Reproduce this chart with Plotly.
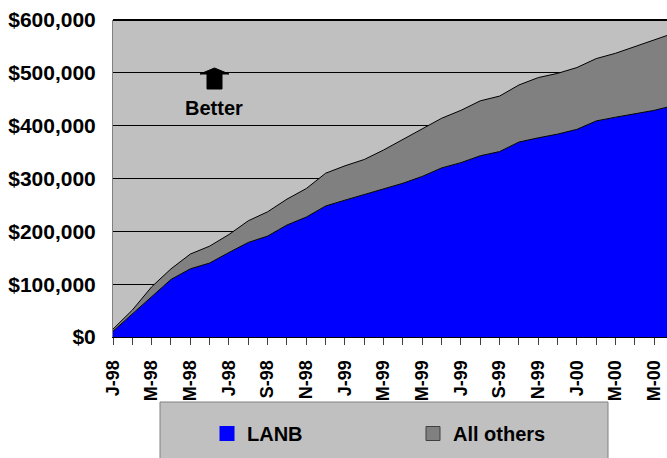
import plotly.graph_objects as go

# monthly cumulative totals, Jan-98 .. Jun-00 (dollars)
months = list(range(30))
lanb = [11000, 44000, 76000, 109000, 129000, 140000, 160000, 179000, 191000, 212000,
        227000, 248000, 259000, 270000, 280000, 291000, 304000, 320000, 330000, 343000,
        351000, 369000, 377000, 384000, 393000, 409000, 416000, 422000, 429000, 438000]
all_others = [4000, 7000, 19000, 20000, 28000, 32000, 34000, 41000, 46000, 49000,
              54000, 62000, 65000, 66000, 74000, 83000, 89000, 94000, 99000, 104000,
              105000, 108000, 114000, 115000, 117000, 118000, 121000, 128000, 134000, 137000]
tick_labels = ["J-98", "M-98", "M-98", "J-98", "S-98", "N-98", "J-99", "M-99",
               "M-99", "J-99", "S-99", "N-99", "J-00", "M-00", "M-00"]

FONT = "Liberation Sans, Arial, sans-serif"
W, H = 667, 458
L, R, T, B = 113, 0, 20, 121
pw, ph = W - L - R, H - T - B


def px_x(x):
    return (x - L) / pw


def px_y(y):
    return (H - B - y) / ph


fig = go.Figure()

# stacked areas
fig.add_trace(go.Scatter(x=months, y=lanb, stackgroup="one", mode="lines",
                         line=dict(color="black", width=1), fillcolor="#0000ff",
                         name="LANB", showlegend=False))
fig.add_trace(go.Scatter(x=months, y=all_others, stackgroup="one", mode="lines",
                         line=dict(color="black", width=1), fillcolor="#808080",
                         name="All others", showlegend=False))

# legend-only entries with square swatches
fig.add_trace(go.Scatter(x=[None], y=[None], mode="markers", name="LANB",
                         marker=dict(symbol="square", size=15, color="#0000ff",
                                     line=dict(width=0))))
fig.add_trace(go.Scatter(x=[None], y=[None], mode="markers", name="All others",
                         marker=dict(symbol="square", size=14, color="#808080",
                                     line=dict(color="#404040", width=1))))

tickvals = months[:29]
ticktext = [tick_labels[i // 2] if i % 2 == 0 else "" for i in tickvals]

fig.update_xaxes(
    range=[0, (W - L - R) / 19.33], tickmode="array", tickvals=tickvals, ticktext=ticktext,
    tickangle=-90, ticks="outside", ticklen=7, tickcolor="#404040",
    showline=True, linecolor="black", linewidth=1, showgrid=False, zeroline=False,
    tickfont=dict(size=18, family=FONT, color="black", weight="bold"),
    ticklabelstandoff=8, automargin=False,
)
fig.update_yaxes(
    range=[0, 600000], dtick=100000, tickprefix="$", tickformat=",d",
    showline=True, linecolor="#808080", linewidth=1,
    showgrid=True, gridcolor="black", gridwidth=1, zeroline=False,
    tickfont=dict(size=21, family=FONT, color="black", weight="bold"),
    ticks="", ticklabelstandoff=12, automargin=False,
)

shapes = [
    # thick top border
    dict(type="line", xref="paper", yref="paper", x0=0, x1=1, y0=1, y1=1,
         line=dict(color="black", width=2)),
    # legend box
    dict(type="rect", xref="paper", yref="paper",
         x0=px_x(160), x1=px_x(608), y0=px_y(402), y1=px_y(470),
         fillcolor="#c0c0c0", line=dict(color="#808080", width=1), layer="above"),
    # "Better" block arrow
    dict(type="path", xref="paper", yref="paper", xsizemode="pixel", ysizemode="pixel",
         xanchor=px_x(214.5), yanchor=px_y(89),
         path="M -7.5 0 L 7.5 0 L 7.5 15 L 14.5 15 L 0 21 L -14.5 15 L -7.5 15 Z",
         fillcolor="black", line=dict(color="black", width=1)),
]

fig.update_layout(
    width=W, height=H,
    margin=dict(l=L, r=R, t=T, b=B, pad=0, autoexpand=False),
    paper_bgcolor="white", plot_bgcolor="#c0c0c0",
    font=dict(family=FONT, color="black", weight="bold"),
    shapes=shapes,
    annotations=[dict(text="Better", xref="paper", yref="paper",
                      x=px_x(214), y=px_y(108), xanchor="center", yanchor="middle",
                      showarrow=False,
                      font=dict(size=20, family=FONT, color="black", weight="bold"))],
    legend=dict(orientation="h", x=px_x(207), y=px_y(414), xanchor="left", yanchor="top",
                traceorder="normal",
                bgcolor="rgba(0,0,0,0)", borderwidth=0, entrywidthmode="pixels",
                entrywidth=161, font=dict(size=20, family=FONT, color="black", weight="bold")),
    showlegend=True,
)

# page body has a default 8px margin; remove it so the figure sits at the top-left
fig.write_html("out.html", config={"displayModeBar": False},
               post_script="document.body.style.margin='0';")
